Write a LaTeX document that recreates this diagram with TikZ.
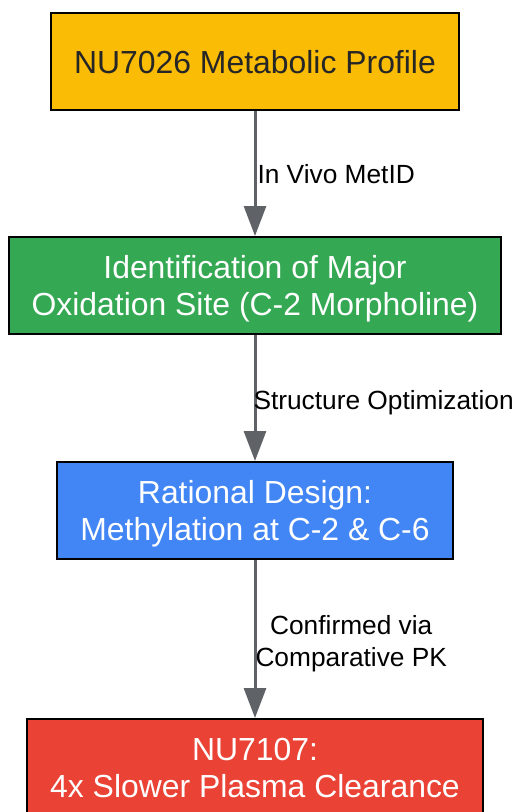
\documentclass[tikz,border=0pt]{standalone}
\usepackage{fontspec}
\setmainfont{Liberation Sans}
\usetikzlibrary{positioning, arrows.meta}
\definecolor{profileyellow}{HTML}{FBBC05}
\definecolor{sitegreen}{HTML}{34A853}
\definecolor{designblue}{HTML}{4285F4}
\definecolor{resultred}{HTML}{EA4335}
\definecolor{arrowgray}{HTML}{5F6368}
\tikzset{
>={Triangle[length=30pt, width=22pt]}, % big gray arrow heads
node distance=126pt, % gap between two boxes
box/.style={draw=black, line width=2pt, minimum height=97pt, inner xsep=23pt, text depth=0pt, align=center, text=white, font=\fontsize{31.9}{37}\selectfont}, % every step of the flow
flow/.style={->, draw=arrowgray, line width=3pt}, % the connectors
edgetext/.style={anchor=west, inner sep=0pt, align=center, text=black, font=\fontsize{26.3}{32}\selectfont}, % text beside a connector
}

\begin{document}
\begin{tikzpicture}
        \useasboundingbox (0,0) rectangle (518pt,-812pt);

        \node[box, fill=profileyellow, text=black!85] (profile) at (255pt,-61.5pt) {NU7026 Metabolic Profile};
        \node[box, fill=sitegreen, below=125pt of profile] (site) {Identification of Major\\Oxidation Site (C-2 Morpholine)};
        \node[box, fill=designblue, below=of site] (design) {Rational Design:\\Methylation at C-2 \& C-6};
        \node[box, fill=resultred, below=158pt of design] (result) {NU7107:\\4x Slower Plasma Clearance};

        \draw (profile) edge[flow] node[edgetext, xshift=1pt, yshift=-1pt] {In Vivo MetID} (site);
        \draw (site) edge[flow] node[edgetext, xshift=-3pt, yshift=-5pt] {Structure Optimization} (design);
        \draw (design) edge[flow] node[edgetext, xshift=-1pt, yshift=-5pt] {Confirmed via\\Comparative PK} (result);
    \end{tikzpicture}
\end{document}
